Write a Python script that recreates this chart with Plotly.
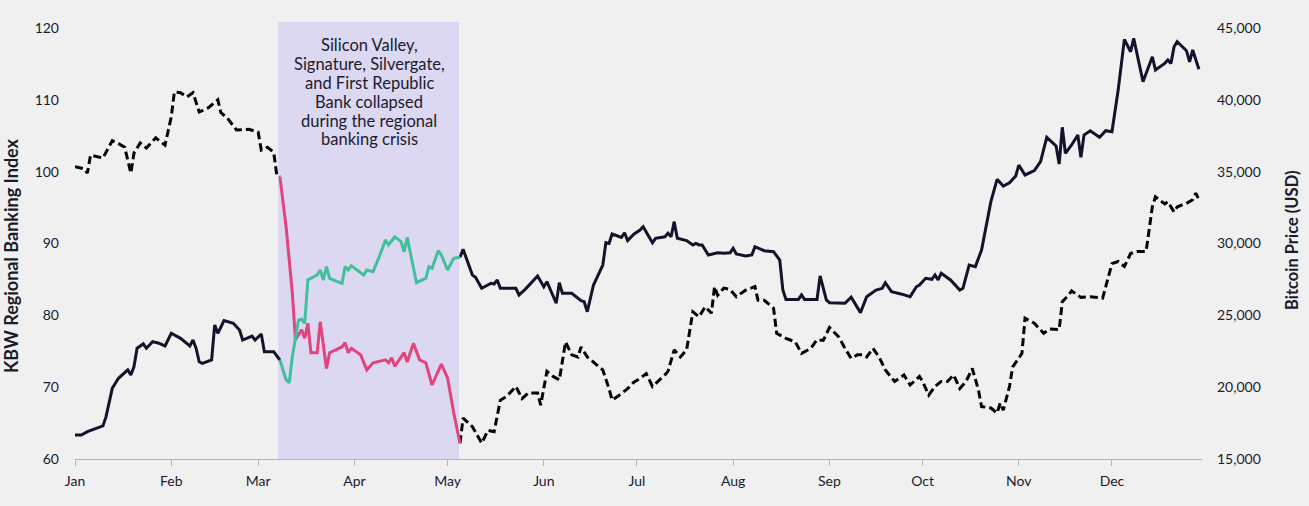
import plotly.graph_objects as go

# ---------------- data ----------------
kbw_pre_dates = ["2023-01-01","2023-01-04","2023-01-05","2023-01-06","2023-01-10","2023-01-13","2023-01-15","2023-01-17",
                 "2023-01-19","2023-01-20","2023-01-22","2023-01-24","2023-01-27","2023-01-30","2023-02-01","2023-02-02",
                 "2023-02-04","2023-02-06","2023-02-08","2023-02-10","2023-02-13","2023-02-14","2023-02-16","2023-02-17",
                 "2023-02-19","2023-02-22","2023-02-26","2023-03-01","2023-03-02","2023-03-04","2023-03-06","2023-03-07",
                 "2023-03-08"]
kbw_pre_vals = [100.7,100.4,99.8,102.3,101.9,104.3,103.9,103.4,99.8,102.6,104.0,103.3,104.7,103.7,107.6,111.1,
                111.0,110.4,111.0,108.3,108.9,109.3,110.0,108.2,107.5,105.8,105.9,105.5,103.0,103.4,102.7,99.5,99.3]

kbw_crisis_dates = ["2023-03-08","2023-03-10","2023-03-12","2023-03-13","2023-03-15","2023-03-16","2023-03-17","2023-03-18",
                    "2023-03-20","2023-03-21","2023-03-23","2023-03-24","2023-03-28","2023-03-29","2023-03-30","2023-03-31",
                    "2023-04-03","2023-04-05","2023-04-07","2023-04-11","2023-04-12","2023-04-13","2023-04-14","2023-04-17",
                    "2023-04-18","2023-04-20","2023-04-22","2023-04-24","2023-04-26","2023-04-29","2023-05-01","2023-05-03",
                    "2023-05-05"]
kbw_crisis_vals = [99.3,92.3,83.1,76.6,78.0,76.8,78.9,74.8,74.8,79.1,72.6,74.8,75.6,76.2,74.8,75.4,
                   74.5,72.4,73.4,73.8,73.4,74.1,72.9,74.8,73.5,76.1,73.8,73.4,70.3,73.2,71.3,66.4,62.2]

kbw_post_dates = ["2023-05-05","2023-05-06","2023-05-09","2023-05-12","2023-05-14","2023-05-16","2023-05-18","2023-05-20",
                  "2023-05-23","2023-05-25","2023-05-27","2023-05-30","2023-05-31","2023-06-02","2023-06-04","2023-06-06",
                  "2023-06-08","2023-06-10","2023-06-12","2023-06-13","2023-06-15","2023-06-17","2023-06-20","2023-06-22",
                  "2023-06-23","2023-06-26","2023-06-28","2023-06-30","2023-07-02","2023-07-04","2023-07-06","2023-07-10",
                  "2023-07-11","2023-07-13","2023-07-15","2023-07-17","2023-07-19","2023-07-21","2023-07-23","2023-07-25",
                  "2023-07-26","2023-07-27","2023-07-29","2023-07-31","2023-08-02","2023-08-05","2023-08-08","2023-08-09",
                  "2023-08-11","2023-08-14","2023-08-15","2023-08-18","2023-08-21","2023-08-23","2023-08-26","2023-08-28",
                  "2023-08-30","2023-09-01","2023-09-04","2023-09-06","2023-09-08","2023-09-10","2023-09-12","2023-09-13",
                  "2023-09-15","2023-09-17","2023-09-19","2023-09-22","2023-09-25","2023-09-27","2023-09-30","2023-10-01",
                  "2023-10-03","2023-10-05","2023-10-07","2023-10-09","2023-10-11","2023-10-13","2023-10-15","2023-10-17",
                  "2023-10-19","2023-10-20","2023-10-23","2023-10-25","2023-10-26","2023-10-27","2023-10-29","2023-10-30",
                  "2023-11-01","2023-11-02","2023-11-03","2023-11-06","2023-11-09","2023-11-11","2023-11-14","2023-11-15",
                  "2023-11-17","2023-11-18","2023-11-21","2023-11-24","2023-11-28","2023-11-29","2023-12-01","2023-12-03",
                  "2023-12-05","2023-12-07","2023-12-09","2023-12-12","2023-12-14","2023-12-15","2023-12-17","2023-12-18",
                  "2023-12-19","2023-12-21","2023-12-22","2023-12-25","2023-12-27","2023-12-28","2023-12-29"]
kbw_post_vals = [62.2,65.7,64.5,62.2,64.0,63.8,68.2,68.7,70.1,68.4,69.2,69.2,67.5,72.2,71.5,71.0,
                 76.3,74.5,74.2,75.6,74.2,73.5,72.4,69.8,68.2,69.1,69.8,70.7,71.2,71.9,70.1,71.7,
                 72.2,75.2,74.2,75.2,80.5,79.8,81.2,80.3,84.0,82.8,83.8,83.6,82.6,83.5,84.0,82.1,
                 82.1,81.0,77.5,76.8,76.3,74.7,75.4,76.6,76.5,78.3,77.0,75.4,74.0,74.5,74.5,74.2,
                 75.4,74.2,72.4,70.8,71.7,70.3,71.5,70.8,68.9,70.1,70.8,70.8,71.7,69.8,70.8,72.6,
                 69.6,67.3,67.1,66.4,67.8,66.8,70.1,72.8,74.0,74.7,79.6,78.9,77.5,78.1,78.0,81.9,
                 82.8,83.4,82.5,82.6,82.4,84.0,87.2,87.5,86.8,88.6,88.9,88.9,95.1,96.5,95.8,95.5,
                 95.8,94.4,95.1,95.6,96.1,97.0,96.1]

btc_pre_dates = ["2023-01-01","2023-01-03","2023-01-05","2023-01-07","2023-01-10","2023-01-11","2023-01-13","2023-01-15",
                 "2023-01-18","2023-01-19","2023-01-20","2023-01-21","2023-01-23","2023-01-24","2023-01-26","2023-01-28",
                 "2023-01-30","2023-02-01","2023-02-04","2023-02-07","2023-02-08","2023-02-09","2023-02-10","2023-02-11",
                 "2023-02-14","2023-02-15","2023-02-16","2023-02-18","2023-02-21","2023-02-23","2023-02-24","2023-02-27",
                 "2023-02-28","2023-03-02","2023-03-03","2023-03-06","2023-03-08"]
btc_pre_vals = [16670,16670,16900,17070,17300,17950,19920,20620,21200,20850,21430,22710,23010,22710,23170,23060,
                22870,23750,23400,22870,23280,22710,21770,21660,21890,24330,23750,24630,24450,23980,23280,23560,
                23280,23700,22470,22470,21890]

btc_crisis_dates = ["2023-03-08","2023-03-10","2023-03-11","2023-03-12","2023-03-14","2023-03-15","2023-03-16","2023-03-17",
                    "2023-03-20","2023-03-21","2023-03-22","2023-03-23","2023-03-24","2023-03-28","2023-03-29","2023-03-30",
                    "2023-03-31","2023-04-04","2023-04-05","2023-04-07","2023-04-09","2023-04-11","2023-04-12","2023-04-14",
                    "2023-04-16","2023-04-17","2023-04-18","2023-04-21","2023-04-24","2023-04-25","2023-04-26","2023-04-28",
                    "2023-04-29","2023-05-01","2023-05-03","2023-05-05"]
btc_crisis_vals = [21890,20500,20310,22120,24680,24730,24450,27460,27810,28160,27460,28390,27580,27230,28390,28160,
                   28440,27810,28160,28040,29080,30250,29900,30470,30130,29430,30430,27270,27580,28390,28270,29500,
                   29200,28160,28970,29040]

btc_post_dates = ["2023-05-05","2023-05-06","2023-05-09","2023-05-10","2023-05-12","2023-05-15","2023-05-16","2023-05-17",
                  "2023-05-18","2023-05-23","2023-05-24","2023-05-26","2023-05-30","2023-06-01","2023-06-02","2023-06-05",
                  "2023-06-06","2023-06-07","2023-06-10","2023-06-13","2023-06-14","2023-06-15","2023-06-17","2023-06-20",
                  "2023-06-21","2023-06-22","2023-06-23","2023-06-26","2023-06-27","2023-06-28","2023-06-30","2023-07-02",
                  "2023-07-03","2023-07-06","2023-07-07","2023-07-10","2023-07-11","2023-07-12","2023-07-13","2023-07-14",
                  "2023-07-17","2023-07-19","2023-07-20","2023-07-21","2023-07-22","2023-07-24","2023-07-27","2023-07-29",
                  "2023-07-31","2023-08-01","2023-08-02","2023-08-05","2023-08-07","2023-08-08","2023-08-11","2023-08-14",
                  "2023-08-16","2023-08-17","2023-08-18","2023-08-22","2023-08-23","2023-08-24","2023-08-28","2023-08-29",
                  "2023-08-31","2023-09-01","2023-09-06","2023-09-08","2023-09-11","2023-09-13","2023-09-16","2023-09-18",
                  "2023-09-19","2023-09-21","2023-09-24","2023-09-27","2023-09-29","2023-09-30","2023-10-02","2023-10-04",
                  "2023-10-05","2023-10-06","2023-10-07","2023-10-10","2023-10-13","2023-10-14","2023-10-16","2023-10-18",
                  "2023-10-20","2023-10-23","2023-10-25","2023-10-27","2023-10-29","2023-10-31","2023-11-01","2023-11-03",
                  "2023-11-06","2023-11-08","2023-11-10","2023-11-13","2023-11-14","2023-11-15","2023-11-16","2023-11-18",
                  "2023-11-20","2023-11-21","2023-11-22","2023-11-24","2023-11-27","2023-11-29","2023-12-01","2023-12-03",
                  "2023-12-05","2023-12-07","2023-12-08","2023-12-11","2023-12-14","2023-12-15","2023-12-18","2023-12-19",
                  "2023-12-20","2023-12-21","2023-12-22","2023-12-25","2023-12-26","2023-12-27","2023-12-29"]
btc_post_vals = [29040,29600,27810,27650,26880,27230,27180,27460,26880,26880,26420,26810,27740,26990,27340,25840,
                 27270,26530,26530,26020,25950,25250,27110,28500,30060,30010,30660,30430,30750,30200,30650,30940,
                 31170,30060,30360,30470,30710,30470,31520,30360,30200,29900,30010,29900,29900,29200,29360,29320,
                 29360,29670,29270,29130,29200,29780,29500,29430,28850,26760,26110,26110,26420,26110,26110,27740,
                 26070,25880,25840,26260,25190,26300,26760,26880,27270,26650,26490,26300,26990,27110,27580,27510,
                 27810,27460,27930,27460,26760,26880,28500,28390,29550,32910,34470,34000,34230,34700,35460,34770,
                 35070,35700,37390,36790,35530,38090,36280,36860,37550,36000,37550,37850,37390,37850,37780,40680,
                 44210,43350,44280,41260,43000,42080,42540,42770,42540,43700,44050,43420,42650,43470,42130]

month_ticks = ["2023-01-01","2023-02-01","2023-03-01","2023-04-01","2023-05-01","2023-06-01",
               "2023-07-01","2023-08-01","2023-09-01","2023-10-01","2023-11-01","2023-12-01"]
month_labels = ["Jan","Feb","Mar","Apr","May","Jun","Jul","Aug","Sep","Oct","Nov","Dec"]
kbw_ticks = [60, 70, 80, 90, 100, 110, 120]
btc_ticks = [15000, 20000, 25000, 30000, 35000, 40000, 45000]

crisis_start = "2023-03-07 09:00"
crisis_end = "2023-05-04 17:00"
crisis_lines = ["Silicon Valley,", "Signature, Silvergate,", "and First Republic",
                "Bank collapsed", "during the regional", "banking crisis"]
title_text = "KBW Regional Banking Index vs. Bitcoin Price (USD)"

# ---------------- styling / layout ----------------
BG = "#f0f0f0"
NAVY = "#13132c"
BLACK = "#050505"
PINK = "#e0457b"
TEAL = "#42bf9b"
SHADE = "#dcd8f1"
TXT = "#1b1b2e"
FONT = "Lato"

W, H = 1309, 506
PLOT_L, PLOT_R, PLOT_T, PLOT_B = 75, 1202, 22, 459   # pixel coords of the plot area
L, T, R, B = PLOT_L, PLOT_T, W - PLOT_R, H - PLOT_B
pw, ph = PLOT_R - PLOT_L, PLOT_B - PLOT_T


def px_x(px):
    return (px - PLOT_L) / pw


def px_y(py):
    return (PLOT_B - py) / ph


fig = go.Figure()

fig.add_trace(go.Scatter(x=kbw_pre_dates, y=kbw_pre_vals, mode="lines",
                         line=dict(color=BLACK, width=3, dash="8px,4px"), yaxis="y", showlegend=False))
fig.add_trace(go.Scatter(x=kbw_post_dates, y=kbw_post_vals, mode="lines",
                         line=dict(color=BLACK, width=3, dash="8px,4px"), yaxis="y", showlegend=False))
fig.add_trace(go.Scatter(x=btc_pre_dates, y=btc_pre_vals, mode="lines",
                         line=dict(color=NAVY, width=3), yaxis="y2", showlegend=False))
fig.add_trace(go.Scatter(x=btc_post_dates, y=btc_post_vals, mode="lines",
                         line=dict(color=NAVY, width=3), yaxis="y2", showlegend=False))
fig.add_trace(go.Scatter(x=kbw_crisis_dates, y=kbw_crisis_vals, mode="lines",
                         line=dict(color=PINK, width=3), yaxis="y", showlegend=False))
fig.add_trace(go.Scatter(x=btc_crisis_dates, y=btc_crisis_vals, mode="lines",
                         line=dict(color=TEAL, width=3), yaxis="y2", showlegend=False))

fig.add_shape(type="rect", xref="x", yref="paper", x0=crisis_start, x1=crisis_end, y0=0, y1=1,
              fillcolor=SHADE, line=dict(width=0), layer="below")

line_centers = [45, 64, 83, 101.5, 120.5, 139]
for txt, cy in zip(crisis_lines, line_centers):
    fig.add_annotation(text=txt, xref="paper", yref="paper", x=px_x(369), y=px_y(cy),
                       xanchor="center", yanchor="middle", showarrow=False,
                       font=dict(family=FONT, size=16.5, color=TXT))

fig.add_annotation(text="<b>KBW Regional Banking Index</b>", xref="paper", yref="paper",
                   x=px_x(11), y=px_y(256), xanchor="center", yanchor="middle", textangle=-90,
                   showarrow=False, font=dict(family=FONT, size=18, color=TXT))
fig.add_annotation(text="<b>Bitcoin Price (USD)</b>", xref="paper", yref="paper",
                   x=px_x(1292), y=px_y(241), xanchor="center", yanchor="middle", textangle=-90,
                   showarrow=False, font=dict(family=FONT, size=16.5, color=TXT))

# chart title: sits above the top edge of the page, only its descenders show
fig.add_annotation(text=title_text, xref="paper", yref="paper",
                   x=px_x(681), y=px_y(3), xanchor="center", yanchor="bottom",
                   showarrow=False, font=dict(family=FONT, size=20, color=TXT))

fig.update_layout(
    width=W, height=H,
    margin=dict(l=L, r=R, t=T, b=B, pad=0),
    paper_bgcolor=BG, plot_bgcolor=BG,
    font=dict(family=FONT, size=14, color=TXT),
    xaxis=dict(type="date", range=["2023-01-01", "2023-12-30"], tickvals=month_ticks, ticktext=month_labels,
               showgrid=False, zeroline=False, showline=True, linecolor="#b4b4b4", linewidth=1,
               ticks="outside", ticklen=6, tickcolor="#b4b4b4", tickwidth=1,
               tickfont=dict(family=FONT, size=14, color=TXT), ticklabelstandoff=3),
    yaxis=dict(range=[60, 120.835], tickvals=kbw_ticks, showgrid=False, zeroline=False, showline=False,
               ticks="", tickfont=dict(family=FONT, size=14, color=TXT), ticklabelstandoff=15),
    yaxis2=dict(range=[15000, 45418], tickvals=btc_ticks, tickformat=",d", overlaying="y", side="right",
                showgrid=False, zeroline=False, showline=False, ticks="",
                tickfont=dict(family=FONT, size=14, color=TXT), ticklabelstandoff=14),
)

# remove the browser's default 8px page margin so the figure fills the window; hide the modebar
fig.write_html("out.html", config={"displayModeBar": False},
               post_script="document.body.style.margin='0';document.body.style.background='#f0f0f0';")
